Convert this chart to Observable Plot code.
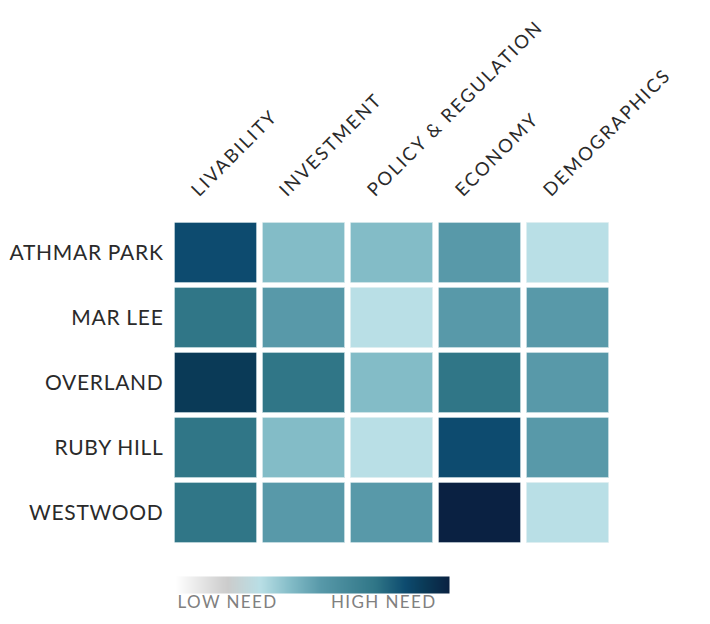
<!DOCTYPE html>
<html><head><meta charset="utf-8">
<script src="https://cdn.jsdelivr.net/npm/d3@7"></script>
<script src="https://cdn.jsdelivr.net/npm/@observablehq/plot@0.6"></script>
<style>
body{margin:0;background:#fff;}
#chart svg{display:block;}
svg.heat g[aria-label="y-axis tick label"] text{letter-spacing:0.7px;}
svg.heat g[aria-label="text"] text{letter-spacing:2px;}
svg.legendbar g[aria-label="text"] text{letter-spacing:1.4px;}
</style>
</head><body><div id="chart"></div>
<script>
const neighborhoods = ["ATHMAR PARK","MAR LEE","OVERLAND","RUBY HILL","WESTWOOD"];
const categories = ["LIVABILITY","INVESTMENT","POLICY & REGULATION","ECONOMY","DEMOGRAPHICS"];
// need level per neighborhood (rows) and category (columns), 1 = low ... 7 = high
const athmarPark = [5,2,2,3,1];
const marLee     = [4,3,1,3,3];
const overland   = [6,4,2,4,3];
const rubyHill   = [4,2,1,5,3];
const westwood   = [4,3,3,7,1];
const levelRows = [athmarPark, marLee, overland, rubyHill, westwood];
const levels = [1,2,3,4,5,6,7];
const levelColors = ["#b9dfe6","#83bcc7","#5899a9","#307687","#0d4b6f","#0a3a57","#0a2142"];
// legend gradient
const rampStops  = [0, 0.19, 0.31, 0.42, 0.53, 0.73, 0.84, 0.91, 1];
const rampColors = ["#ffffff","#cccccc","#b9dfe6","#83bcc7","#5899a9","#307687","#0d4b6f","#0a3a57","#0a2142"];
const legendTicks = [0.19, 0.76];
const legendLabels = ["LOW NEED","HIGH NEED"];

const data = [];
neighborhoods.forEach((n, i) => categories.forEach((c, j) => data.push({neighborhood: n, category: c, level: levelRows[i][j]})));

const font = "Lato, 'Open Sans', sans-serif";

const main = Plot.plot({
  className: "heat",
  width: 710,
  height: 560,
  marginLeft: 174,
  marginRight: 101,
  marginTop: 222,
  marginBottom: 16,
  style: {fontFamily: font, background: "#fff"},
  x: {domain: categories, paddingInner: 0.057, paddingOuter: 0, axis: null},
  y: {domain: neighborhoods, paddingInner: 0.06, paddingOuter: 0, axis: null},
  color: {type: "ordinal", domain: levels, range: levelColors},
  marks: [
    Plot.cell(data, {x: "category", y: "neighborhood", fill: "level", stroke: "#e8f2f4", strokeWidth: 0.6, inset: 0.3}),
    Plot.axisY({label: null, tickSize: 0, tickPadding: 11, fontSize: 21, fill: "#2a2a2a"}),
    Plot.text(categories, {x: d => d, frameAnchor: "top", dx: -17, dy: -25, rotate: -45, textAnchor: "start", lineAnchor: "bottom", fontSize: 18.5, fill: "#2a2a2a"})
  ]
});

const legend = Plot.plot({
  className: "legendbar",
  width: 710,
  height: 64,
  marginLeft: 175,
  marginRight: 261,
  marginTop: 16,
  marginBottom: 31,
  style: {fontFamily: font, background: "#fff"},
  x: {domain: [0, 1], axis: null},
  y: {domain: [0, 1], axis: null},
  color: {type: "linear", domain: rampStops, range: rampColors},
  marks: [
    Plot.raster({fill: (x, y) => x, x1: 0, x2: 1, y1: 0, y2: 1, pixelSize: 1, imageRendering: "auto"}),
    Plot.text(legendLabels, {x: (d, i) => legendTicks[i], frameAnchor: "bottom", dy: 14, fontSize: 17, fill: "#808080"})
  ]
});

document.getElementById("chart").append(main, legend);
</script>
</body></html>
